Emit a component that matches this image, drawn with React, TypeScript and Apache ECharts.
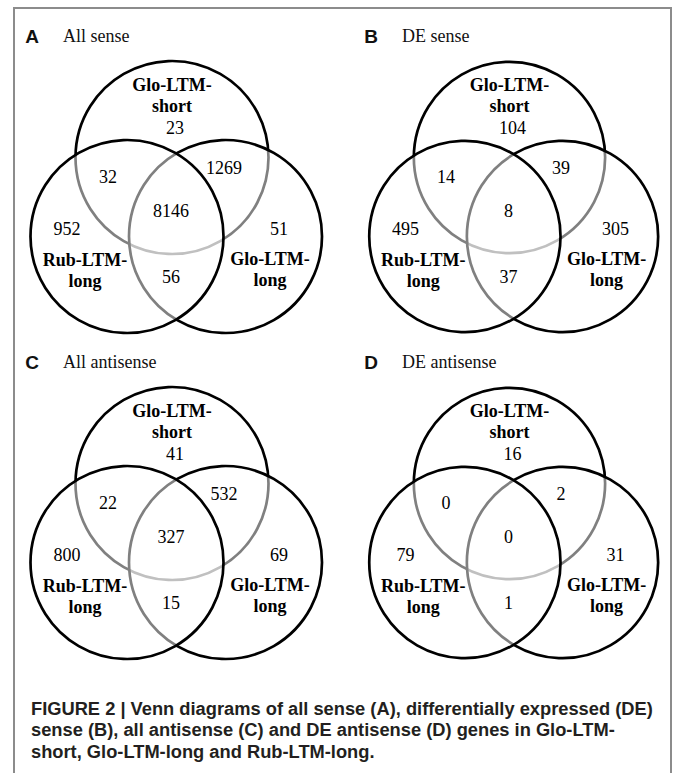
import React, { useEffect, useRef } from "react";
import * as echarts from "echarts";

// ---- data ----
const setNames = ["Glo-LTM-short", "Rub-LTM-long", "Glo-LTM-long"];
// region order: short only, short∩Rub, short∩GloLong, all three, Rub only, GloLong only, Rub∩GloLong
const regionNames = ["S", "S∩R", "S∩G", "S∩R∩G", "R", "G", "R∩G"];
const allSense = [23, 32, 1269, 8146, 952, 51, 56];
const deSense = [104, 14, 39, 8, 495, 305, 37];
const allAntisense = [41, 22, 532, 327, 800, 69, 15];
const deAntisense = [16, 0, 2, 0, 79, 31, 1];
const panelLetters = ["A", "B", "C", "D"];
const panelTitles = ["All sense", "DE sense", "All antisense", "DE antisense"];
const captionLines = [
  "FIGURE 2 | Venn diagrams of all sense (A), differentially expressed (DE)",
  "sense (B), all antisense (C) and DE antisense (D) genes in Glo-LTM-",
  "short, Glo-LTM-long and Rub-LTM-long.",
];

// ---- layout ----
const W = 675;
const H = 773;
const PANEL_W = 339;
const PANEL_H = 326;
const panelOrigins = [
  [0, 0],
  [339, 0],
  [0, 326],
  [339, 326],
];
const circleCenters = [
  [172, 157.5],
  [127, 236.5],
  [225.5, 236.5],
];
const drawOrder = [0, 2, 1];
const R = 96.5;
const regionPos = [
  [175, 128],
  [108, 177],
  [224, 168],
  [171, 211],
  [67, 229],
  [279, 229],
  [171, 277],
];
const namePos = [
  [172, 95],
  [85, 270],
  [270, 269],
];
const SERIF = "Liberation Serif";
const SANS = "Liberation Sans";

const panelValues = [allSense, deSense, allAntisense, deAntisense];

function splitName(n: string) {
  return n.replace(/-(\w+)$/, "-\n$1");
}

export default function App() {
  const ref = useRef<HTMLDivElement>(null);
  useEffect(() => {
    document.body.style.margin = "0";
    const chart = echarts.init(ref.current!, null, { renderer: "svg" });
    const grid: any[] = [];
    const xAxis: any[] = [];
    const yAxis: any[] = [];
    const series: any[] = [];
    panelOrigins.forEach((o, i) => {
      grid.push({ left: o[0], top: o[1], width: PANEL_W, height: PANEL_H });
      xAxis.push({ type: "value", gridIndex: i, min: 0, max: PANEL_W, show: false });
      yAxis.push({ type: "value", gridIndex: i, min: 0, max: PANEL_H, inverse: true, show: false });
      series.push({
        type: "custom",
        name: "circles" + i,
        xAxisIndex: i,
        yAxisIndex: i,
        clip: false,
        silent: true,
        data: drawOrder.map((k) => [circleCenters[k][0], circleCenters[k][1]]),
        renderItem: (params: any, api: any) => {
          const c = api.coord([api.value(0), api.value(1)]);
          const r = api.size([R, 0])[0];
          return {
            type: "circle",
            shape: { cx: c[0], cy: c[1], r },
            style: { fill: "rgba(255,255,255,0.5)", stroke: "#000", lineWidth: 2.7 },
          };
        },
      });
      series.push({
        type: "custom",
        name: "names" + i,
        xAxisIndex: i,
        yAxisIndex: i,
        clip: false,
        silent: true,
        data: setNames.map((n, k) => [namePos[k][0], namePos[k][1]]),
        renderItem: (params: any, api: any) => {
          const c = api.coord([api.value(0), api.value(1)]);
          return {
            type: "text",
            x: c[0],
            y: c[1],
            style: {
              text: splitName(setNames[params.dataIndex]),
              fill: "#000",
              font: `bold 18px "${SERIF}"`,
              align: "center",
              verticalAlign: "middle",
              lineHeight: 21,
            },
          };
        },
      });
      series.push({
        type: "custom",
        name: "counts" + i,
        xAxisIndex: i,
        yAxisIndex: i,
        clip: false,
        silent: true,
        data: panelValues[i].map((v, k) => [regionPos[k][0], regionPos[k][1], v]),
        renderItem: (params: any, api: any) => {
          const c = api.coord([api.value(0), api.value(1)]);
          return {
            type: "text",
            x: c[0],
            y: c[1],
            style: {
              text: String(panelValues[i][params.dataIndex]),
              fill: "#000",
              font: `18px "${SERIF}"`,
              align: "center",
              verticalAlign: "middle",
            },
          };
        },
      });
    });

    const graphic: any[] = [
      {
        type: "rect",
        shape: { x: 14, y: 8, width: 657, height: 800 },
        style: { fill: "none", stroke: "#8c8c8c", lineWidth: 2 },
        silent: true,
      },
    ];
    panelOrigins.forEach((o, i) => {
      graphic.push({
        type: "text",
        x: o[0] + 32,
        y: o[1] + 36,
        style: {
          text: panelLetters[i],
          font: `bold 19px "${SANS}"`,
          fill: "#111",
          align: "center",
          verticalAlign: "middle",
        },
      });
      graphic.push({
        type: "text",
        x: o[0] + 63,
        y: o[1] + 36,
        style: {
          text: panelTitles[i],
          font: `18px "${SERIF}"`,
          fill: "#111",
          align: "left",
          verticalAlign: "middle",
        },
      });
    });
    captionLines.forEach((t, i) => {
      graphic.push({
        type: "text",
        x: 31,
        y: 708 + i * 21.5,
        style: {
          text: t,
          font: `bold 18.3px "${SANS}"`,
          fill: "#231f20",
          align: "left",
          verticalAlign: "middle",
        },
      });
    });

    chart.setOption({
      animation: false,
      backgroundColor: "#fff",
      grid,
      xAxis,
      yAxis,
      series,
      graphic,
    });
    return () => chart.dispose();
  }, []);
  return (
    <div
      ref={ref}
      style={{ position: "absolute", left: 0, top: 0, width: W, height: H }}
    />
  );
}
